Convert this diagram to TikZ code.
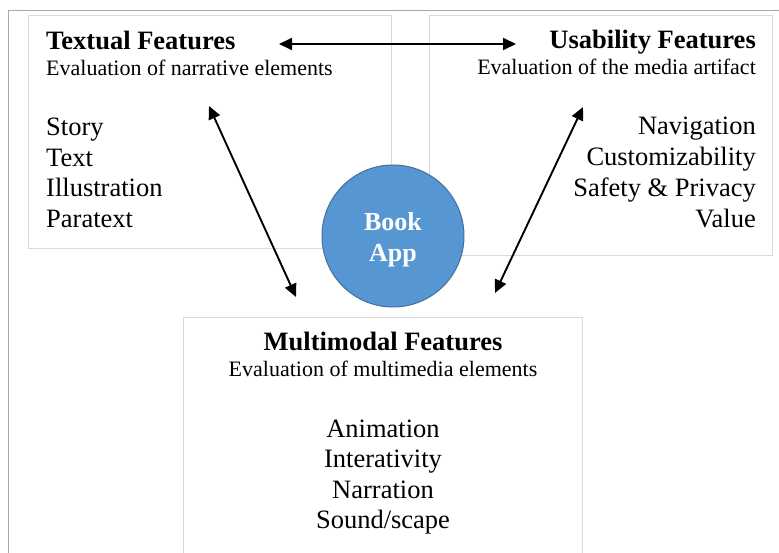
\documentclass[tikz,border=0pt]{standalone}
\usepackage{fontspec}
\setmainfont{Liberation Serif}
\usetikzlibrary{arrows.meta}

\definecolor{framecol}{RGB}{160,168,184}
\definecolor{boxedge}{RGB}{218,218,218}
\definecolor{appfill}{RGB}{86,151,211}
\definecolor{appedge}{RGB}{65,113,156}

\tikzset{
  panel/.style={draw=boxedge, line width=0.8pt, fill=white, rectangle, inner sep=0pt},
  heading/.style={font=\bfseries\fontsize{26.5}{31}\selectfont, inner sep=0pt},
  subhead/.style={font=\fontsize{22}{26}\selectfont, inner sep=0pt},
  item/.style={font=\fontsize{26.5}{31}\selectfont, inner sep=0pt},
  applabel/.style={font=\bfseries\fontsize{26}{31}\selectfont, text=white, inner sep=0pt, anchor=base},
  link/.style={line width=1.9pt, {Triangle[length=13pt,width=12pt]}-{Triangle[length=13pt,width=12pt]}}
}

\begin{document}
\begin{tikzpicture}[x=1pt, y=-1pt]
  \clip (0,0) rectangle (779,553);
  \fill[white] (0,0) rectangle (779,553);

  % outer frame (only top and left edges fall inside the page)
  \draw[framecol, line width=1.5pt] (8.5,600) -- (8.5,10.5) -- (800,10.5);

  % panels
  \node[panel, minimum width=363pt, minimum height=233pt] (textbox) at (209.5,131.5) {};
  \node[panel, minimum width=343pt, minimum height=240pt] (usebox) at (600.5,135) {};
  \node[panel, minimum width=399pt, minimum height=283pt] (multibox) at (382.5,458.5) {};

  % central circle
  \node[circle, draw=appedge, fill=appfill, line width=1pt, minimum size=142pt, inner sep=0pt] (app) at (393,236) {};
  \node[applabel] (appA) at (393,231) {Book};
  \node[applabel] (appB) at (393,262) {App};

  % textual features
  \node[heading, anchor=base west] (t0) at (46,49.5) {Textual Features};
  \node[subhead, anchor=base west] (t1) at (46,76) {Evaluation of narrative elements};
  \node[item, anchor=base west] (t2) at (46,136) {Story};
  \node[item, anchor=base west] (t3) at (46,167) {Text};
  \node[item, anchor=base west] (t4) at (46,197) {Illustration};
  \node[item, anchor=base west] (t5) at (46,228) {Paratext};

  % usability features
  \node[heading, anchor=base east] (u0) at (756,49) {Usability Features};
  \node[subhead, anchor=base east] (u1) at (756,75) {Evaluation of the media artifact};
  \node[item, anchor=base east] (u2) at (756,135) {Navigation};
  \node[item, anchor=base east] (u3) at (756,166) {Customizability};
  \node[item, anchor=base east] (u4) at (756,197) {Safety \& Privacy};
  \node[item, anchor=base east] (u5) at (756,228) {Value};

  % multimodal features
  \node[heading, anchor=base] (m0) at (383,350) {Multimodal Features};
  \node[subhead, anchor=base] (m1) at (383,376) {Evaluation of multimedia elements};
  \node[item, anchor=base] (m2) at (383,437) {Animation};
  \node[item, anchor=base] (m3) at (383,467) {Interativity};
  \node[item, anchor=base] (m4) at (383,498) {Narration};
  \node[item, anchor=base] (m5) at (383,528) {Sound/scape};

  % arrow end points
  \coordinate (hl) at (279,44);
  \coordinate (hr) at (516,44);
  \coordinate (tl) at (209,106);
  \coordinate (tm) at (296,297);
  \coordinate (ur) at (583,107);
  \coordinate (um) at (495,293);

  \draw[link] (hl) -- (hr);
  \draw[link] (tl) -- (tm);
  \draw[link] (ur) -- (um);
\end{tikzpicture}
\end{document}
